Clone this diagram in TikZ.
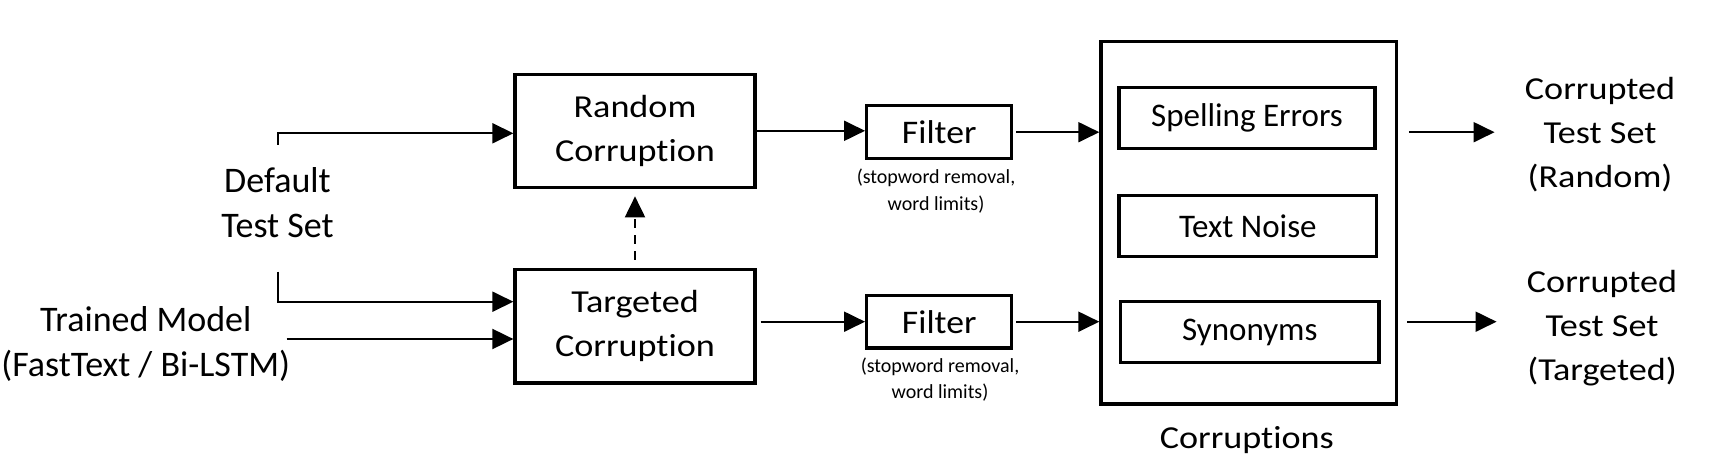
\documentclass[tikz,border=0pt]{standalone}
\usepackage{fontspec}
\setmainfont{Carlito}[Ligatures=CommonOff]
\newfontfamily\wideA{Carlito}[FakeStretch=1.13,Ligatures=CommonOff]
\newfontfamily\wideB{Carlito}[FakeStretch=1.08,Ligatures=CommonOff]
\usetikzlibrary{arrows.meta}
\begin{document}
\begin{tikzpicture}[x=0.5pt,y=-0.5pt,
  box/.style={draw,line width=1.65pt,inner sep=0pt,align=center},
  txt/.style={inner sep=0pt,align=center},
  arr/.style={-{Triangle[length=10.5pt,width=10pt]},line width=1pt},
  bigtxt/.style={txt,font=\fontsize{18}{22.5}\selectfont},
  corrbox/.style={box,minimum width=120pt,minimum height=56.6pt,font=\wideA\fontsize{16}{22.15}\selectfont},
  filtbox/.style={box,minimum width=72.5pt,minimum height=26.4pt,font=\wideB\fontsize{16.5}{20}\selectfont},
  smalltxt/.style={txt,font=\fontsize{10}{13.3}\selectfont},
  kindbox/.style={box,minimum height=30.5pt,font=\fontsize{16.5}{20}\selectfont},
  outtxt/.style={txt,font=\wideA\fontsize{16}{22.1}\selectfont}
]
\useasboundingbox (0,0) rectangle (1724,470);

% left texts
\node[bigtxt] (dts) at (277.5,203) {Default\\Test Set};
\node[bigtxt] (tm) at (145.8,343.5) {Trained Model\\(FastText / Bi-LSTM)};

% corruption boxes
\node[corrbox] (rand) at (635,130.8) {Random\\Corruption};
\node[corrbox] (targ) at (635,326.3) {Targeted\\Corruption};

% filters
\node[filtbox] (filt1) at (939.2,132.2) {Filter};
\node[filtbox] (filt2) at (939.2,321.7) {Filter};
\node[smalltxt] (fl1) at (936,191.2) {(stopword removal,\\word limits)};
\node[smalltxt] (fl2) at (940,379.5) {(stopword removal,\\word limits)};

% corruptions container
\node[box,minimum width=147.85pt,minimum height=181.15pt] (corr) at (1248.8,222.8) {};
\node[kindbox,minimum width=128pt] (spell) at (1247,117.8) {Spelling Errors};
\node[kindbox,minimum width=128.85pt] (noise) at (1247.8,226.2) {Text Noise};
\node[kindbox,minimum width=129.15pt] (syn) at (1249.8,332) {Synonyms};
\node[txt,font=\wideA\fontsize{16}{20}\selectfont] (corrlab) at (1246.8,440) {Corruptions};

% outputs
\node[outtxt] (out1) at (1600,134.5) {Corrupted\\Test Set\\(Random)};
\node[outtxt] (out2) at (1602,327.9) {Corrupted\\Test Set\\(Targeted)};

% connectors
\coordinate (d1) at (278.3,145);
\coordinate (d1e) at (278.3,133.3);
\coordinate (d2) at (278.3,271.7);
\coordinate (d2e) at (278.3,301.7);
\coordinate (tm1) at (286.7,339);
\draw[arr] (d1) -- (d1e) -- (d1e -| rand.west);
\draw[arr] (d2) -- (d2e) -- (d2e -| targ.west);
\draw[arr] (tm1) -- (tm1 -| targ.west);

\draw[arr,dash pattern=on 4.5pt off 3.5pt,shorten <=4.15pt,shorten >=3.65pt] (targ.north) -- (rand.south);

\draw[arr] (rand.east) -- (rand.east -| filt1.west);
\draw[arr,shorten <=2pt] (targ.east |- filt2.west) -- (filt2.west);
\draw[arr,shorten <=1.5pt] (filt1.east) -- (filt1.east -| corr.west);
\draw[arr,shorten <=1.5pt] (filt2.east) -- (filt2.east -| corr.west);

\draw[arr,shorten <=5.3pt,shorten >=15pt] (corr.east |- filt1.east) -- (out1.west |- filt1.east);
\draw[arr,shorten <=4.5pt,shorten >=15pt] (corr.east |- filt2.east) -- (out2.west |- filt2.east);
\end{tikzpicture}
\end{document}
